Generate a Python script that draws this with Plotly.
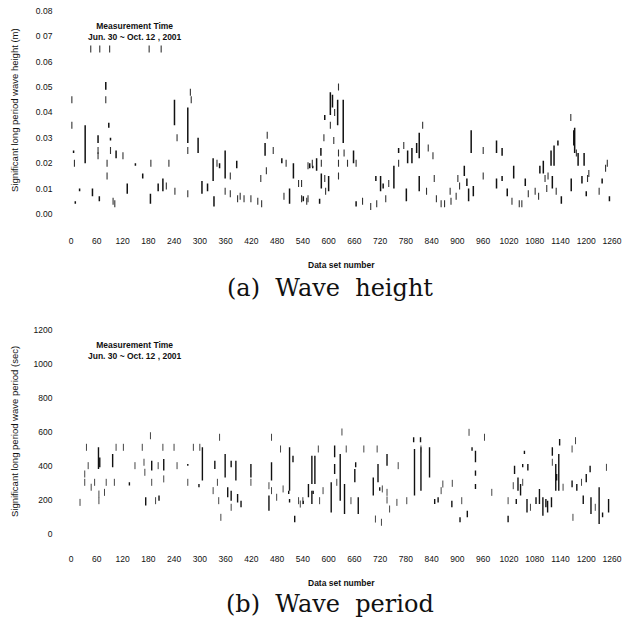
import plotly.graph_objects as go

# ---------------- Panel (a): wave height (m) ----------------
a_seg_x = [6, 10, 20, 33, 50, 63, 66, 81, 88, 92, 105, 131, 150, 167, 185, 203, 214, 241, 272, 296,
           305, 318, 331, 333, 346, 359, 386, 452, 491, 509, 518, 541, 556, 563, 572, 579, 582, 583,
           591, 600, 604, 609, 621, 634, 658, 664, 710, 721, 727, 752, 763, 781, 784, 794, 805, 811,
           811, 916, 922, 926, 932, 937, 991, 991, 1004, 1004, 1016, 1031, 1058, 1092, 1100, 1118,
           1121, 1125, 1134, 1142, 1165, 1171, 1173, 1181, 1190, 1195, 1200, 1237, 1254]
a_seg_lo = [.024, .004, .009, .020, .007, .028, .005, .049, .034, .029, .022, .008, .019, .014, .004,
            .009, .009, .035, .028, .024, .008, .009, .013, .003, .018, .014, .018, .023, .020, .004,
            .014, .005, .018, .018, .017, .004, .023, .010, .037, .009, .039, .042, .035, .028, .020,
            .003, .013, .009, .010, .010, .024, .005, .020, .020, .024, .022, .009, .015, .011, .005,
            .024, .007, .024, .010, .023, .013, .007, .014, .011, .016, .016, .019, .010, .019, .027,
            .004, .009, .027, .024, .019, .012, .019, .007, .012, .005]
a_seg_hi = [.025, .005, .010, .035, .010, .031, .007, .052, .036, .030, .025, .012, .020, .016, .008,
            .012, .014, .045, .042, .030, .013, .012, .022, .007, .020, .025, .021, .028, .022, .010,
            .020, .007, .020, .019, .022, .006, .026, .016, .039, .015, .048, .047, .045, .045, .025,
            .005, .015, .015, .012, .019, .026, .010, .025, .026, .028, .032, .015, .019, .014, .010,
            .033, .011, .029, .014, .026, .015, .010, .019, .014, .019, .021, .025, .015, .027, .029,
            .007, .014, .033, .034, .024, .015, .024, .009, .014, .007]
a_pt_x = [2, 2, 8, 46, 67, 90, 182, 210, 63, 63, 81, 84, 84, 92, 98, 102, 121, 186, 222, 228, 242,
          247, 272, 272, 278, 280, 340, 359, 371, 371, 388, 394, 403, 419, 435, 444, 442, 457, 455,
          471, 496, 501, 530, 537, 549, 552, 562, 537, 552, 583, 589, 591, 593, 604, 614, 612, 623,
          623, 623, 623, 636, 644, 664, 679, 698, 712, 733, 740, 763, 775, 819, 828, 832, 843, 846,
          851, 862, 870, 883, 885, 897, 901, 905, 960, 960, 1027, 1044, 1050, 1065, 1081, 1089,
          1104, 1108, 1111, 1130, 1164, 1177, 1206, 1203, 1230, 1245, 1249]
a_pt_y = [.045, .035, .020, .065, .065, .065, .065, .065, .025, .023, .045, .015, .020, .025, .005,
          .004, .023, .020, .011, .020, .009, .030, .025, .008, .048, .045, .020, .009, .015, .008,
          .006, .007, .006, .006, .005, .004, .014, .031, .017, .025, .007, .020, .012, .006, .005,
          .019, .020, .012, .006, .020, .030, .014, .009, .035, .040, .029, .050, .024, .020, .015,
          .024, .020, .020, .005, .003, .004, .006, .012, .020, .027, .035, .009, .026, .023, .014,
          .006, .004, .004, .009, .005, .007, .014, .011, .025, .015, .005, .004, .004, .008, .009,
          .007, .014, .010, .015, .009, .038, .024, .016, .014, .009, .018, .020]

# ---------------- Panel (b): wave period (sec) ----------------
b_seg_x = [64, 67, 97, 136, 174, 188, 205, 216, 272, 306, 298, 335, 359, 365, 373, 373, 384, 388,
           396, 419, 461, 467, 507, 509, 509, 517, 521, 553, 561, 561, 541, 568, 564, 606, 614, 614,
           627, 637, 661, 663, 669, 704, 715, 719, 736, 798, 800, 814, 815, 835, 847, 855, 887, 906,
           923, 934, 942, 942, 942, 1018, 1033, 1037, 1041, 1047, 1052, 1056, 1064, 1062, 1083,
           1091, 1099, 1106, 1110, 1119, 1121, 1129, 1131, 1136, 1138, 1167, 1178, 1193, 1200, 1209,
           1211, 1230, 1238, 1252]
b_seg_lo = [382, 392, 392, 285, 167, 373, 196, 373, 402, 314, 275, 382, 333, 216, 392, 196, 314, 186,
            157, 333, 137, 314, 235, 255, 186, 422, 69, 216, 294, 176, 176, 294, 235, 127, 451, 353,
            196, 118, 304, 392, 118, 226, 304, 255, 402, 539, 226, 539, 255, 333, 176, 186, 157, 69,
            98, 490, 422, 343, 265, 69, 353, 176, 255, 226, 392, 471, 373, 127, 176, 176, 108, 157,
            127, 157, 461, 255, 314, 255, 520, 275, 255, 176, 304, 363, 118, 59, 98, 127]
b_seg_hi = [510, 450, 470, 304, 216, 431, 226, 441, 412, 510, 294, 431, 470, 275, 431, 255, 431, 235,
            196, 412, 226, 422, 255, 510, 206, 461, 108, 294, 461, 255, 196, 461, 255, 304, 520, 412,
            470, 294, 382, 422, 216, 333, 412, 275, 471, 569, 500, 569, 510, 510, 206, 216, 196, 98,
            137, 510, 490, 373, 294, 108, 402, 206, 333, 294, 412, 490, 412, 206, 216, 265, 216, 206,
            196, 216, 510, 412, 353, 471, 559, 314, 294, 226, 353, 402, 216, 275, 127, 206]
b_pt_x = [21, 32, 32, 36, 40, 47, 55, 65, 65, 78, 82, 101, 105, 122, 149, 166, 170, 172, 185, 188,
          197, 203, 214, 216, 240, 247, 272, 285, 300, 331, 341, 346, 344, 349, 373, 419, 461, 467,
          467, 479, 488, 494, 530, 534, 540, 576, 579, 587, 619, 631, 641, 652, 682, 709, 713, 723,
          725, 736, 736, 742, 759, 762, 782, 815, 862, 866, 888, 910, 927, 963, 980, 1018, 1030,
          1052, 1070, 1121, 1146, 1167, 1169, 1175, 1189, 1221, 1247]
b_pt_y = [186, 304, 353, 510, 402, 275, 304, 235, 196, 245, 304, 304, 510, 510, 402, 510, 422, 363,
          578, 304, 196, 402, 510, 324, 510, 402, 304, 510, 510, 255, 304, 569, 196, 98, 157, 304,
          284, 255, 569, 216, 500, 265, 196, 176, 196, 500, 196, 255, 304, 600, 500, 196, 500, 88,
          500, 69, 265, 245, 200, 147, 186, 402, 196, 500, 255, 294, 298, 196, 598, 569, 245, 196,
          284, 304, 157, 422, 275, 500, 98, 549, 304, 157, 392]

x_ticks = list(range(0, 1261, 60))
a_y_ticks = [0.00, 0.01, 0.02, 0.03, 0.04, 0.05, 0.06, 0.07, 0.08]
a_y_labels = ["0.00", "0.01", "0.02", "0.03", "0.04", "0.05", "0.06", "0 07", "0.08"]
b_y_ticks = [0, 200, 400, 600, 800, 1000, 1200]

W, H = 626, 622


def px(x):
    return x / W


def py(y):
    return 1 - y / H


def seg_path(xs, los, his):
    X, Y = [], []
    for x, lo, hi in zip(xs, los, his):
        X += [x, x, None]
        Y += [lo, hi, None]
    return X, Y


fig = go.Figure()

ax, ay = seg_path(a_seg_x, a_seg_lo, a_seg_hi)
fig.add_trace(go.Scatter(x=ax, y=ay, mode="lines", line=dict(color="#111", width=1.5),
                         xaxis="x", yaxis="y", hoverinfo="skip", showlegend=False))
fig.add_trace(go.Scatter(x=a_pt_x, y=a_pt_y, mode="markers",
                         marker=dict(symbol="line-ns", size=5, line=dict(color="#333", width=1.1)),
                         xaxis="x", yaxis="y", showlegend=False))
bx, by = seg_path(b_seg_x, b_seg_lo, b_seg_hi)
fig.add_trace(go.Scatter(x=bx, y=by, mode="lines", line=dict(color="#111", width=1.4),
                         xaxis="x2", yaxis="y2", hoverinfo="skip", showlegend=False))
fig.add_trace(go.Scatter(x=b_pt_x, y=b_pt_y, mode="markers",
                         marker=dict(symbol="line-ns", size=5, line=dict(color="#444", width=1.0)),
                         xaxis="x2", yaxis="y2", showlegend=False))

tickfont = dict(family="Liberation Sans", size=8.5, color="#111")
xdom = [0.09284, 0.99824]
common_x = dict(range=[-30, 1290], domain=xdom, tickvals=x_ticks, showgrid=False, zeroline=False,
                showline=False, ticks="outside", tickcolor="rgba(0,0,0,0)", tickfont=tickfont,
                automargin=False, tickangle=0)
common_y = dict(showgrid=False, zeroline=False, showline=False, ticks="outside", ticklen=3,
                tickcolor="rgba(0,0,0,0)", tickfont=tickfont, automargin=False)

fig.update_layout(
    width=W, height=H, margin=dict(l=0, r=0, t=0, b=0, pad=0, autoexpand=False),
    paper_bgcolor="white", plot_bgcolor="white", showlegend=False,
    xaxis=dict(common_x, anchor="y", ticklen=11),
    yaxis=dict(common_y, anchor="x", domain=[0.64373, 0.99455], range=[-0.003, 0.083],
               tickvals=a_y_ticks, ticktext=a_y_labels),
    xaxis2=dict(common_x, anchor="y2", ticklen=10),
    yaxis2=dict(common_y, anchor="x2", domain=[0.13055, 0.48039], range=[-40, 1240],
                tickvals=b_y_ticks),
)

lab = dict(family="Liberation Sans", size=8.5, color="#111")
ann = []
mt = "<b>Measurement Time<br>Jun. 30 ~ Oct. 12 , 2001</b>"
ann.append(dict(x=px(135), y=py(31), text=mt, font=dict(family="Liberation Sans", size=8.5, color="#111")))
ann.append(dict(x=px(135), y=py(350), text=mt, font=dict(family="Liberation Sans", size=8.5, color="#111")))
ann.append(dict(x=px(341), y=py(265), text="<b>Data set number</b>", font=lab))
ann.append(dict(x=px(341), y=py(583), text="<b>Data set number</b>", font=lab))
ann.append(dict(x=px(14), y=py(110), text="Significant long period wave height (m)", textangle=-90,
                font=dict(family="Liberation Sans", size=9.5, color="#111")))
ann.append(dict(x=px(14), y=py(432), text="Significant long period wave period (sec)", textangle=-90,
                font=dict(family="Liberation Sans", size=9.5, color="#111")))
serif = dict(family="DejaVu Serif", size=24, color="#111")
ann.append(dict(x=px(330), y=py(288), text="(a)  Wave  height", font=serif))
ann.append(dict(x=px(330), y=py(604), text="(b)  Wave  period", font=serif))
for a in ann:
    a.update(xref="paper", yref="paper", showarrow=False, xanchor="center", yanchor="middle")
fig.update_layout(annotations=ann)

# remove the default 8px page margin so the figure sits at the window's top-left corner
fig.write_html("out.html", config={"displayModeBar": False},
               post_script="document.body.style.margin='0px';")
